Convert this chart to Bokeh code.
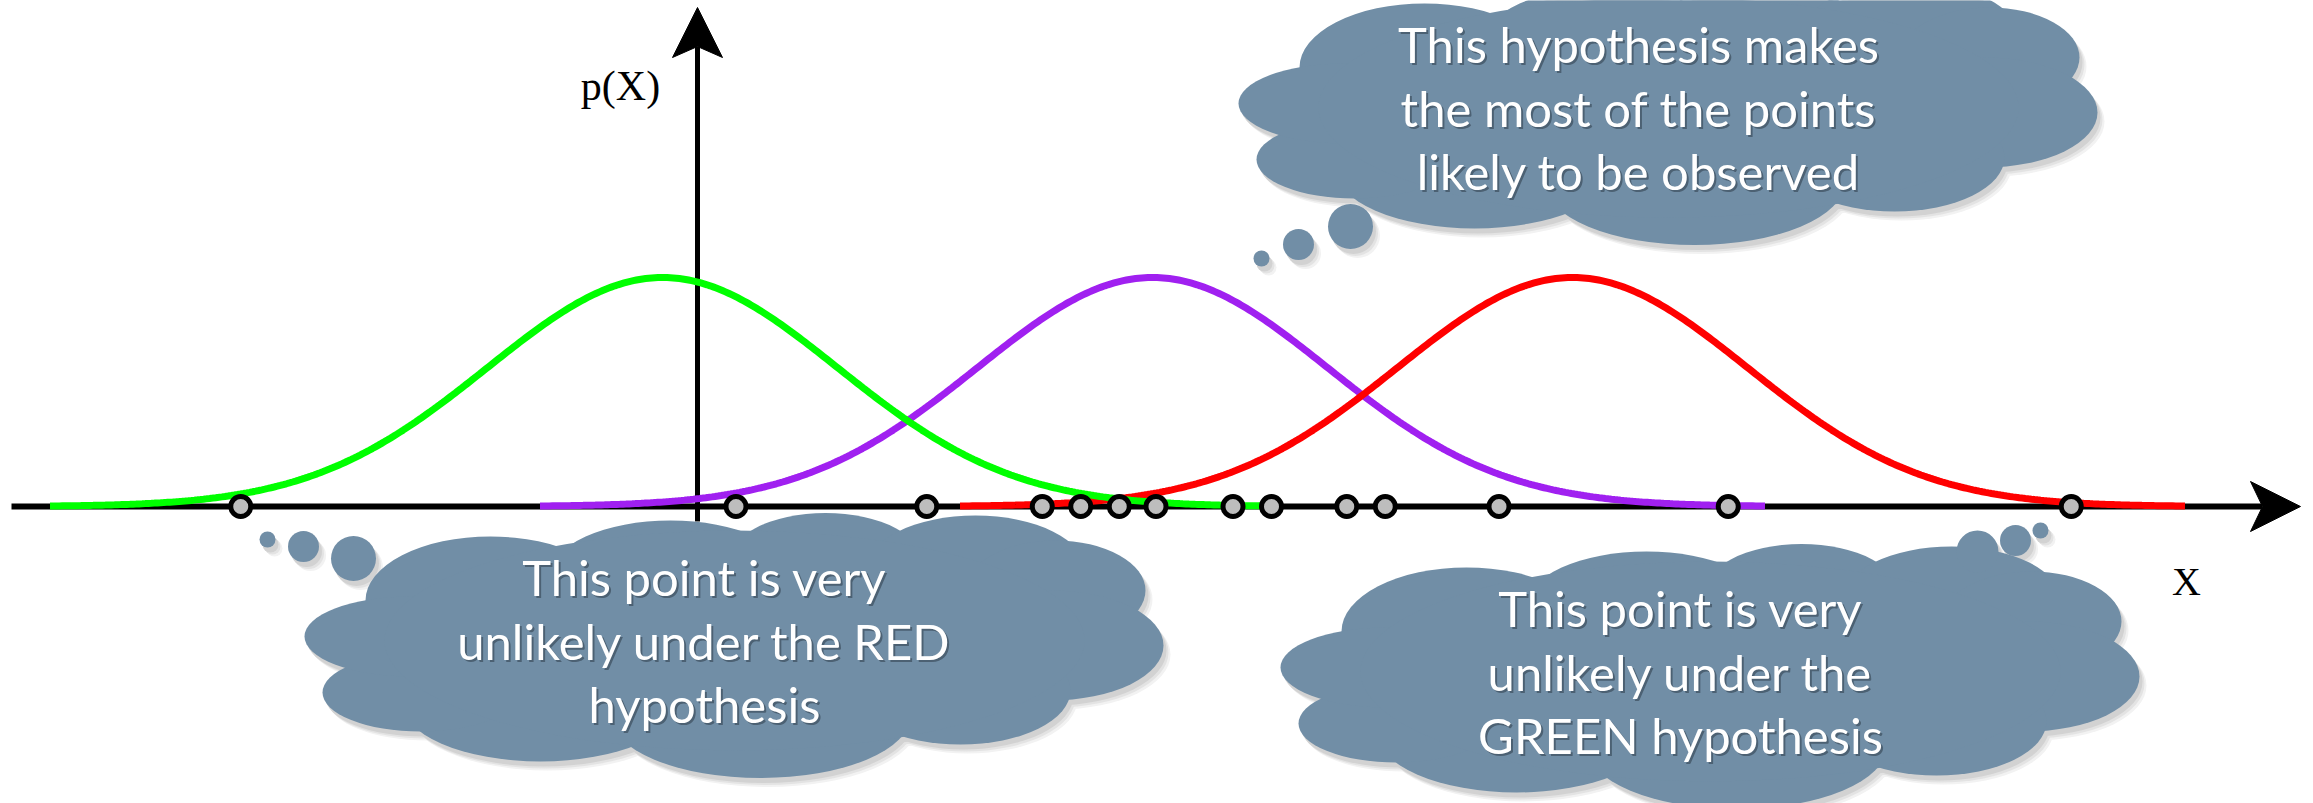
import numpy as np
from bokeh.plotting import figure
from bokeh.models import Range1d
from bokeh.core.properties import value
from bokeh.embed import file_html
from bokeh.resources import INLINE

# ---- data -------------------------------------------------------------
# three candidate Gaussian hypotheses (x measured in units of the shared sigma)
hypothesis_names = ["GREEN", "PURPLE", "RED"]
hypothesis_means = [-0.2, 2.6, 5.0]
hypothesis_sigma = 1.0
hypothesis_colors = ["#00ff00", "#a020f0", "#ff0000"]
draw_order = [1, 2, 0]          # purple, red, then green on top

# observed sample points on the X axis
observations = [-2.61, 0.22, 1.31, 1.97, 2.19, 2.41, 2.62,
                3.06, 3.28, 3.71, 3.93, 4.58, 5.89, 7.85]

cloud_texts = [
    ["This hypothesis makes", "the most of the points", "likely to be observed"],
    ["This point is very", "unlikely under the RED", "hypothesis"],
    ["This point is very", "unlikely under the", "GREEN hypothesis"],
]

# ---- page geometry (screen pixels) --------------------------------------
W, H = 2313, 803
X0PX, PXX = 697.0, 175.0          # screen x of x=0, pixels per x unit
Y0PX, PXY = 506.0, 574.0          # screen y of p=0, pixels per density unit


def sx(px):
    return (px - X0PX) / PXX


def sy(py):
    return (Y0PX - py) / PXY


p = figure(width=W, height=H, x_range=Range1d(sx(0), sx(W)), y_range=Range1d(sy(H), sy(0)),
           x_axis_type=None, y_axis_type=None, toolbar_location=None,
           output_backend="svg", min_border=0)
p.outline_line_color = None
p.grid.visible = False
p.background_fill_color = "white"
p.border_fill_color = "white"

# ---- axes drawn as arrows -------------------------------------------------
p.segment(x0=[sx(11)], y0=[0], x1=[sx(2262)], y1=[0], line_width=6, line_color="black")
p.patch(x=[sx(2300), sx(2250), sx(2262), sx(2250)], y=[0, sy(481), 0, sy(531)],
        fill_color="black", line_color="black", line_width=1)
p.segment(x0=[0], y0=[sy(521)], x1=[0], y1=[sy(46)], line_width=5, line_color="black")
p.patch(x=[0, sx(672), 0, sx(722)], y=[sy(7), sy(57), sy(46), sy(57)],
        fill_color="black", line_color="black", line_width=1)

p.text(x=[sx(620)], y=[sy(85)], text=["p(X)"], text_font=value("Liberation Serif"),
       text_font_size="42px", text_align="center", text_baseline="alphabetic", text_color="black")
p.text(x=[sx(2186)], y=[sy(581)], text=["X"], text_font=value("Liberation Serif"),
       text_font_size="40px", text_align="center", text_baseline="alphabetic", text_color="black")

# ---- hypothesis densities ----------------------------------------------
for i in draw_order:
    mu = hypothesis_means[i]
    xs = np.linspace(mu - 3.5 * hypothesis_sigma, mu + 3.5 * hypothesis_sigma, 400)
    ys = np.exp(-0.5 * ((xs - mu) / hypothesis_sigma) ** 2) / (hypothesis_sigma * np.sqrt(2 * np.pi))
    p.line(xs, ys, line_width=7, line_color=hypothesis_colors[i])

p.scatter(x=observations, y=[0] * len(observations), marker="circle", size=20,
          fill_color="#bdbdbd", line_color="black", line_width=5)

# ---- thought clouds ----------------------------------------------------
CLOUD = "#718ea6"
# lobes of the cloud outline, relative to its bounding box (cx, cy, w, h)
lobes = [
    (186, 87, 250, 128), (366, 62, 240, 110), (521, 52, 200, 105), (671, 57, 220, 110),
    (751, 77, 180, 100), (746, 132, 226, 110), (656, 177, 220, 108), (456, 202, 300, 125),
    (236, 187, 280, 122), (116, 179, 196, 78), (106, 123, 212, 80), (430, 127, 700, 220),
]
shadow_layers = [(7, 9, "#f2f2f2"), (5, 7, "#e3e3e3"), (3, 5, "#d2d2d2")]

clouds = [
    dict(origin=(1238, -20), bubbles=[(1261, 258, 8), (1298, 244, 15.5), (1350, 226, 22.5)]),
    dict(origin=(304, 513), bubbles=[(267, 539, 8), (303, 546, 15.5), (353, 558, 22.5)]),
    dict(origin=(1280, 544), bubbles=[(2040, 530, 8), (2015, 540, 15.5), (1977, 551, 21)]),
]

for cloud, lines in zip(clouds, cloud_texts):
    ox, oy = cloud["origin"]
    for dx, dy, col in shadow_layers:
        p.ellipse(x=[sx(ox + c[0] + dx) for c in lobes], y=[sy(oy + c[1] + dy) for c in lobes],
                  width=[c[2] / PXX for c in lobes], height=[c[3] / PXY for c in lobes],
                  fill_color=col, line_color=None)
        b = cloud["bubbles"]
        p.scatter(x=[sx(bx + dx) for bx, by, r in b], y=[sy(by + dy) for bx, by, r in b],
                  size=[2 * r for bx, by, r in b], marker="circle", fill_color=col, line_color=None)
    p.ellipse(x=[sx(ox + c[0]) for c in lobes], y=[sy(oy + c[1]) for c in lobes],
              width=[c[2] / PXX for c in lobes], height=[c[3] / PXY for c in lobes],
              fill_color=CLOUD, line_color=None)
    b = cloud["bubbles"]
    p.scatter(x=[sx(bx) for bx, by, r in b], y=[sy(by) for bx, by, r in b],
              size=[2 * r for bx, by, r in b], marker="circle", fill_color=CLOUD, line_color=None)

    tx = [sx(ox + 400)] * 3
    ty = [sy(oy + 63), sy(oy + 127), sy(oy + 190)]
    p.text(x=tx, y=ty, text=lines, text_font=value("Lato"), text_font_size="49px",
           text_align="center", text_baseline="alphabetic", text_color="#2e3c48",
           text_alpha=0.55, x_offset=2, y_offset=2)
    p.text(x=tx, y=ty, text=lines, text_font=value("Lato"), text_font_size="49px",
           text_align="center", text_baseline="alphabetic", text_color="white")

open("out.html", "w").write(file_html(p, INLINE))
